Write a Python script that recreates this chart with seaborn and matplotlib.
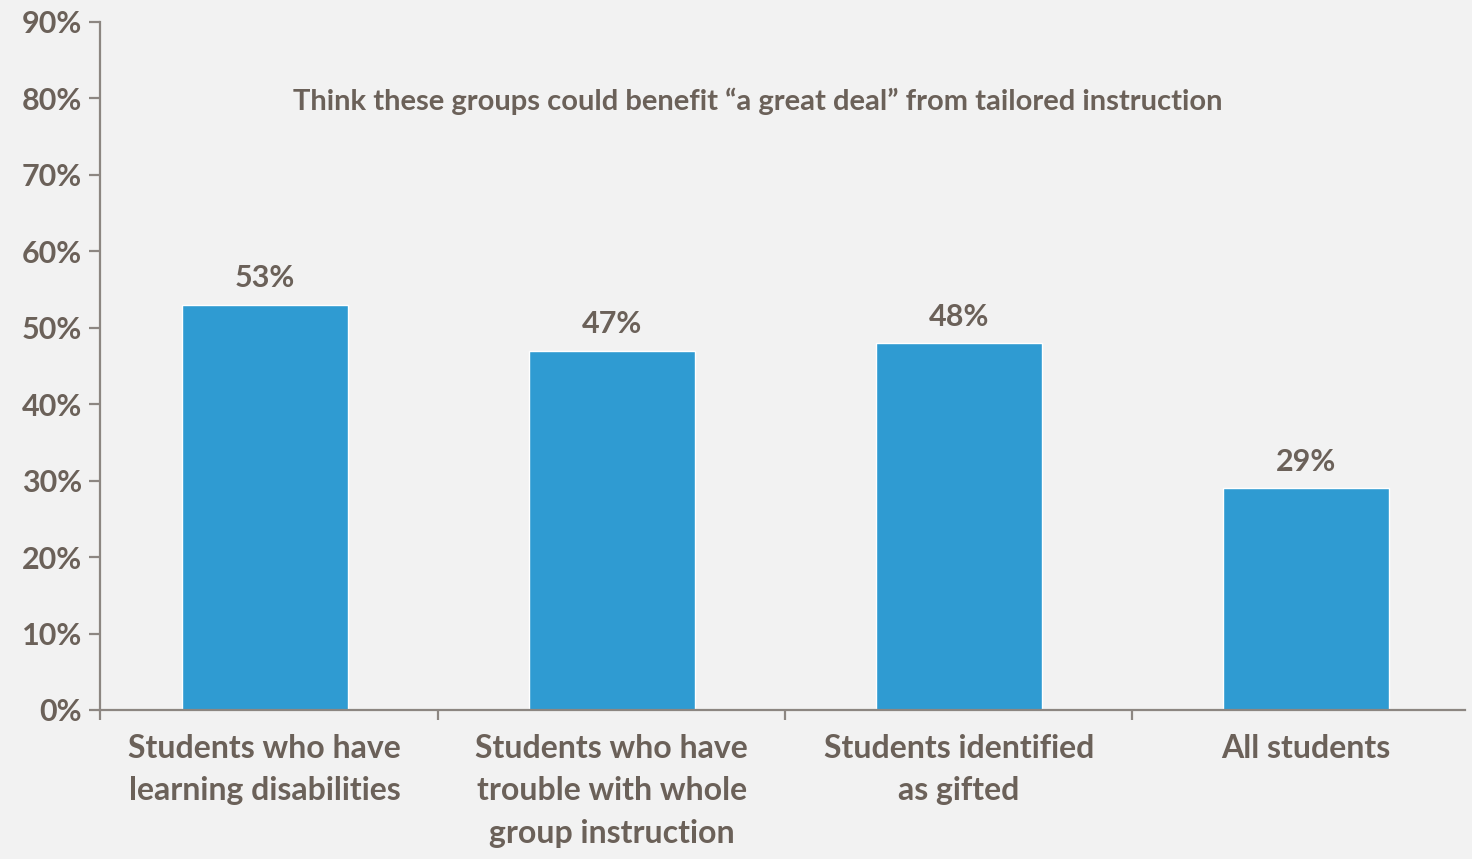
import matplotlib
matplotlib.use("Agg")
import matplotlib.pyplot as plt
import seaborn as sns
import pandas as pd
from matplotlib.ticker import FixedLocator, PercentFormatter

categories = [
    "Students who have\nlearning disabilities",
    "Students who have\ntrouble with whole\ngroup instruction",
    "Students identified\nas gifted",
    "All students",
]
values = [53, 47, 48, 29]
value_labels = ["53%", "47%", "48%", "29%"]
y_ticks = [0, 10, 20, 30, 40, 50, 60, 70, 80, 90]
note = "Think these groups could benefit \u201ca great deal\u201d from tailored instruction"

BG = "#f2f2f2"
BAR = "#2f9bd2"
TEXT = "#6b6159"
AXIS = "#8c8681"

sns.set_theme(style="white")
plt.rcParams["font.family"] = ["Lato", "DejaVu Sans"]

df = pd.DataFrame({"group": categories, "share": values})

fig = plt.figure(figsize=(14.72, 8.59), dpi=100, facecolor=BG)
ax = fig.add_axes([0.0679, 0.1735, 0.9273, 0.8009], facecolor=BG)

sns.barplot(data=df, x="group", y="share", color=BAR, width=0.48,
            saturation=1, ax=ax)

ax.set_xlim(-0.475, 3.458)
ax.set_ylim(0, 90)

for s in ["top", "right"]:
    ax.spines[s].set_visible(False)
for s in ["left", "bottom"]:
    ax.spines[s].set_color(AXIS)
    ax.spines[s].set_linewidth(1.6)

# y axis
ax.yaxis.set_major_locator(FixedLocator(y_ticks))
ax.yaxis.set_major_formatter(PercentFormatter(decimals=0))
ax.tick_params(axis="y", left=True, length=8, width=1.6, color=AXIS,
               labelsize=22, labelcolor=TEXT, pad=5)

# x axis: ticks at category boundaries, labels centred under bars
ax.xaxis.set_major_locator(FixedLocator([-0.475, 0.5, 1.5, 2.5]))
ax.set_xticklabels(["", "", "", ""])
ax.xaxis.set_minor_locator(FixedLocator(range(len(categories))))
ax.set_xticklabels(categories, minor=True)
ax.tick_params(axis="x", which="major", bottom=True, length=7, width=1.6,
               color=AXIS)
ax.tick_params(axis="x", which="minor", bottom=False, length=0,
               labelsize=23, labelcolor=TEXT, pad=17)

for lab in ax.get_xticklabels(minor=True):
    lab.set_fontweight("bold")
    lab.set_linespacing(1.58)
for lab in ax.get_yticklabels():
    lab.set_fontweight("bold")

ax.set_xlabel("")
ax.set_ylabel("")

ax.bar_label(ax.containers[0], labels=value_labels, padding=9,
             fontsize=22, color=TEXT, fontweight="bold")

ax.text(1.42, 79.6, note, ha="center", va="center", fontsize=21,
        color=TEXT, fontweight="bold")

fig.savefig("out.png", dpi=100, facecolor=BG)
